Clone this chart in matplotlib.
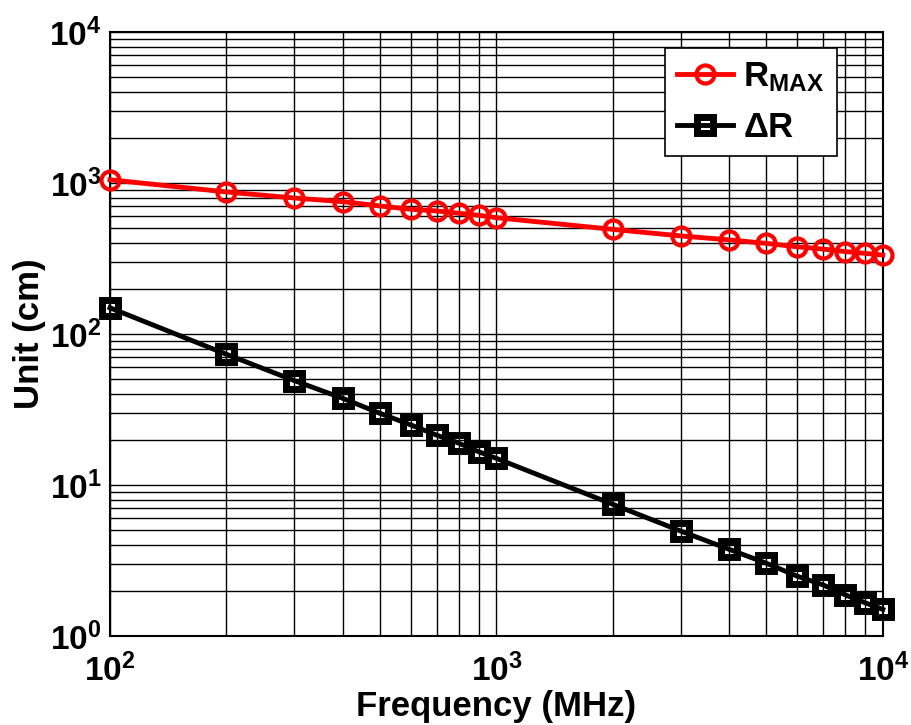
import numpy as np
import matplotlib
matplotlib.use("Agg")
import matplotlib.pyplot as plt

plt.rcParams['font.family'] = ['Liberation Sans', 'DejaVu Sans']
plt.rcParams['mathtext.fontset'] = 'custom'
plt.rcParams['mathtext.rm'] = 'Liberation Sans:bold'
plt.rcParams['mathtext.bf'] = 'Liberation Sans:bold'
plt.rcParams['mathtext.it'] = 'Liberation Sans:bold'

# --- Data ---
freq_mhz = [100, 200, 300, 400, 500, 600, 700, 800, 900, 1000,
            2000, 3000, 4000, 5000, 6000, 7000, 8000, 9000, 10000]
r_max = [1050, 872, 795, 752, 704, 670, 653, 630, 611, 589,
         493, 446, 420, 398, 378, 365, 351, 342, 333]
delta_r = [149, 73.4, 49.1, 37.5, 29.8, 25.0, 21.4, 18.9, 16.6, 15.0,
           7.45, 4.95, 3.75, 3.03, 2.49, 2.18, 1.87, 1.66, 1.50]

x_ticks = [1e2, 1e3, 1e4]
x_tick_labels = [r'$\mathbf{10^{2}}$', r'$\mathbf{10^{3}}$', r'$\mathbf{10^{4}}$']
y_ticks = [1e0, 1e1, 1e2, 1e3, 1e4]
y_tick_labels = [r'$\mathbf{10^{0}}$', r'$\mathbf{10^{1}}$', r'$\mathbf{10^{2}}$',
                 r'$\mathbf{10^{3}}$', r'$\mathbf{10^{4}}$']

# --- Plot ---
fig = plt.figure(figsize=(9.12, 7.25), dpi=100)
ax = fig.add_axes([0.1206, 0.1228, 0.8474, 0.8331])

ax.loglog(freq_mhz, r_max, color='red', lw=3.5, marker='o', ms=13,
          mfc='none', mec='red', mew=3, label=r'$\mathbf{R_{MAX}}$',
          zorder=3, clip_on=False)
ax.loglog(freq_mhz, delta_r, color='black', lw=3.5, marker='s', ms=11,
          mfc='none', mec='black', mew=5, label=r'$\mathbf{\Delta R}$',
          zorder=3, clip_on=False)

ax.set_xlim(1e2, 1e4)
ax.set_ylim(1e0, 1e4)
ax.set_xticks(x_ticks)
ax.set_xticklabels(x_tick_labels)
ax.set_yticks(y_ticks)
ax.set_yticklabels(y_tick_labels)
ax.tick_params(axis='both', which='major', labelsize=24, length=0)
ax.tick_params(axis='x', which='major', pad=13)
ax.tick_params(axis='y', which='major', pad=6)
ax.tick_params(axis='both', which='minor', length=0, labelleft=False, labelbottom=False)

ax.grid(True, which='both', color='black', lw=1.0, ls='-')
ax.set_axisbelow(True)
for s in ax.spines.values():
    s.set_linewidth(1.5)

ax.set_xlabel('Frequency (MHz)', fontsize=25, fontweight='bold', labelpad=1)
ax.set_ylabel('Unit (cm)', fontsize=25, fontweight='bold')
ax.yaxis.set_label_coords(-0.083, 0.5)

leg = ax.legend(loc='upper right', fontsize=25, frameon=True, fancybox=False,
                edgecolor='black', framealpha=1, borderpad=0.35, handlelength=1.6,
                handletextpad=0.3, bbox_to_anchor=(0.9405, 0.9735),
                borderaxespad=0, labelspacing=0.5)
leg.get_frame().set_linewidth(1.2)

plt.savefig('out.png', dpi=100)
